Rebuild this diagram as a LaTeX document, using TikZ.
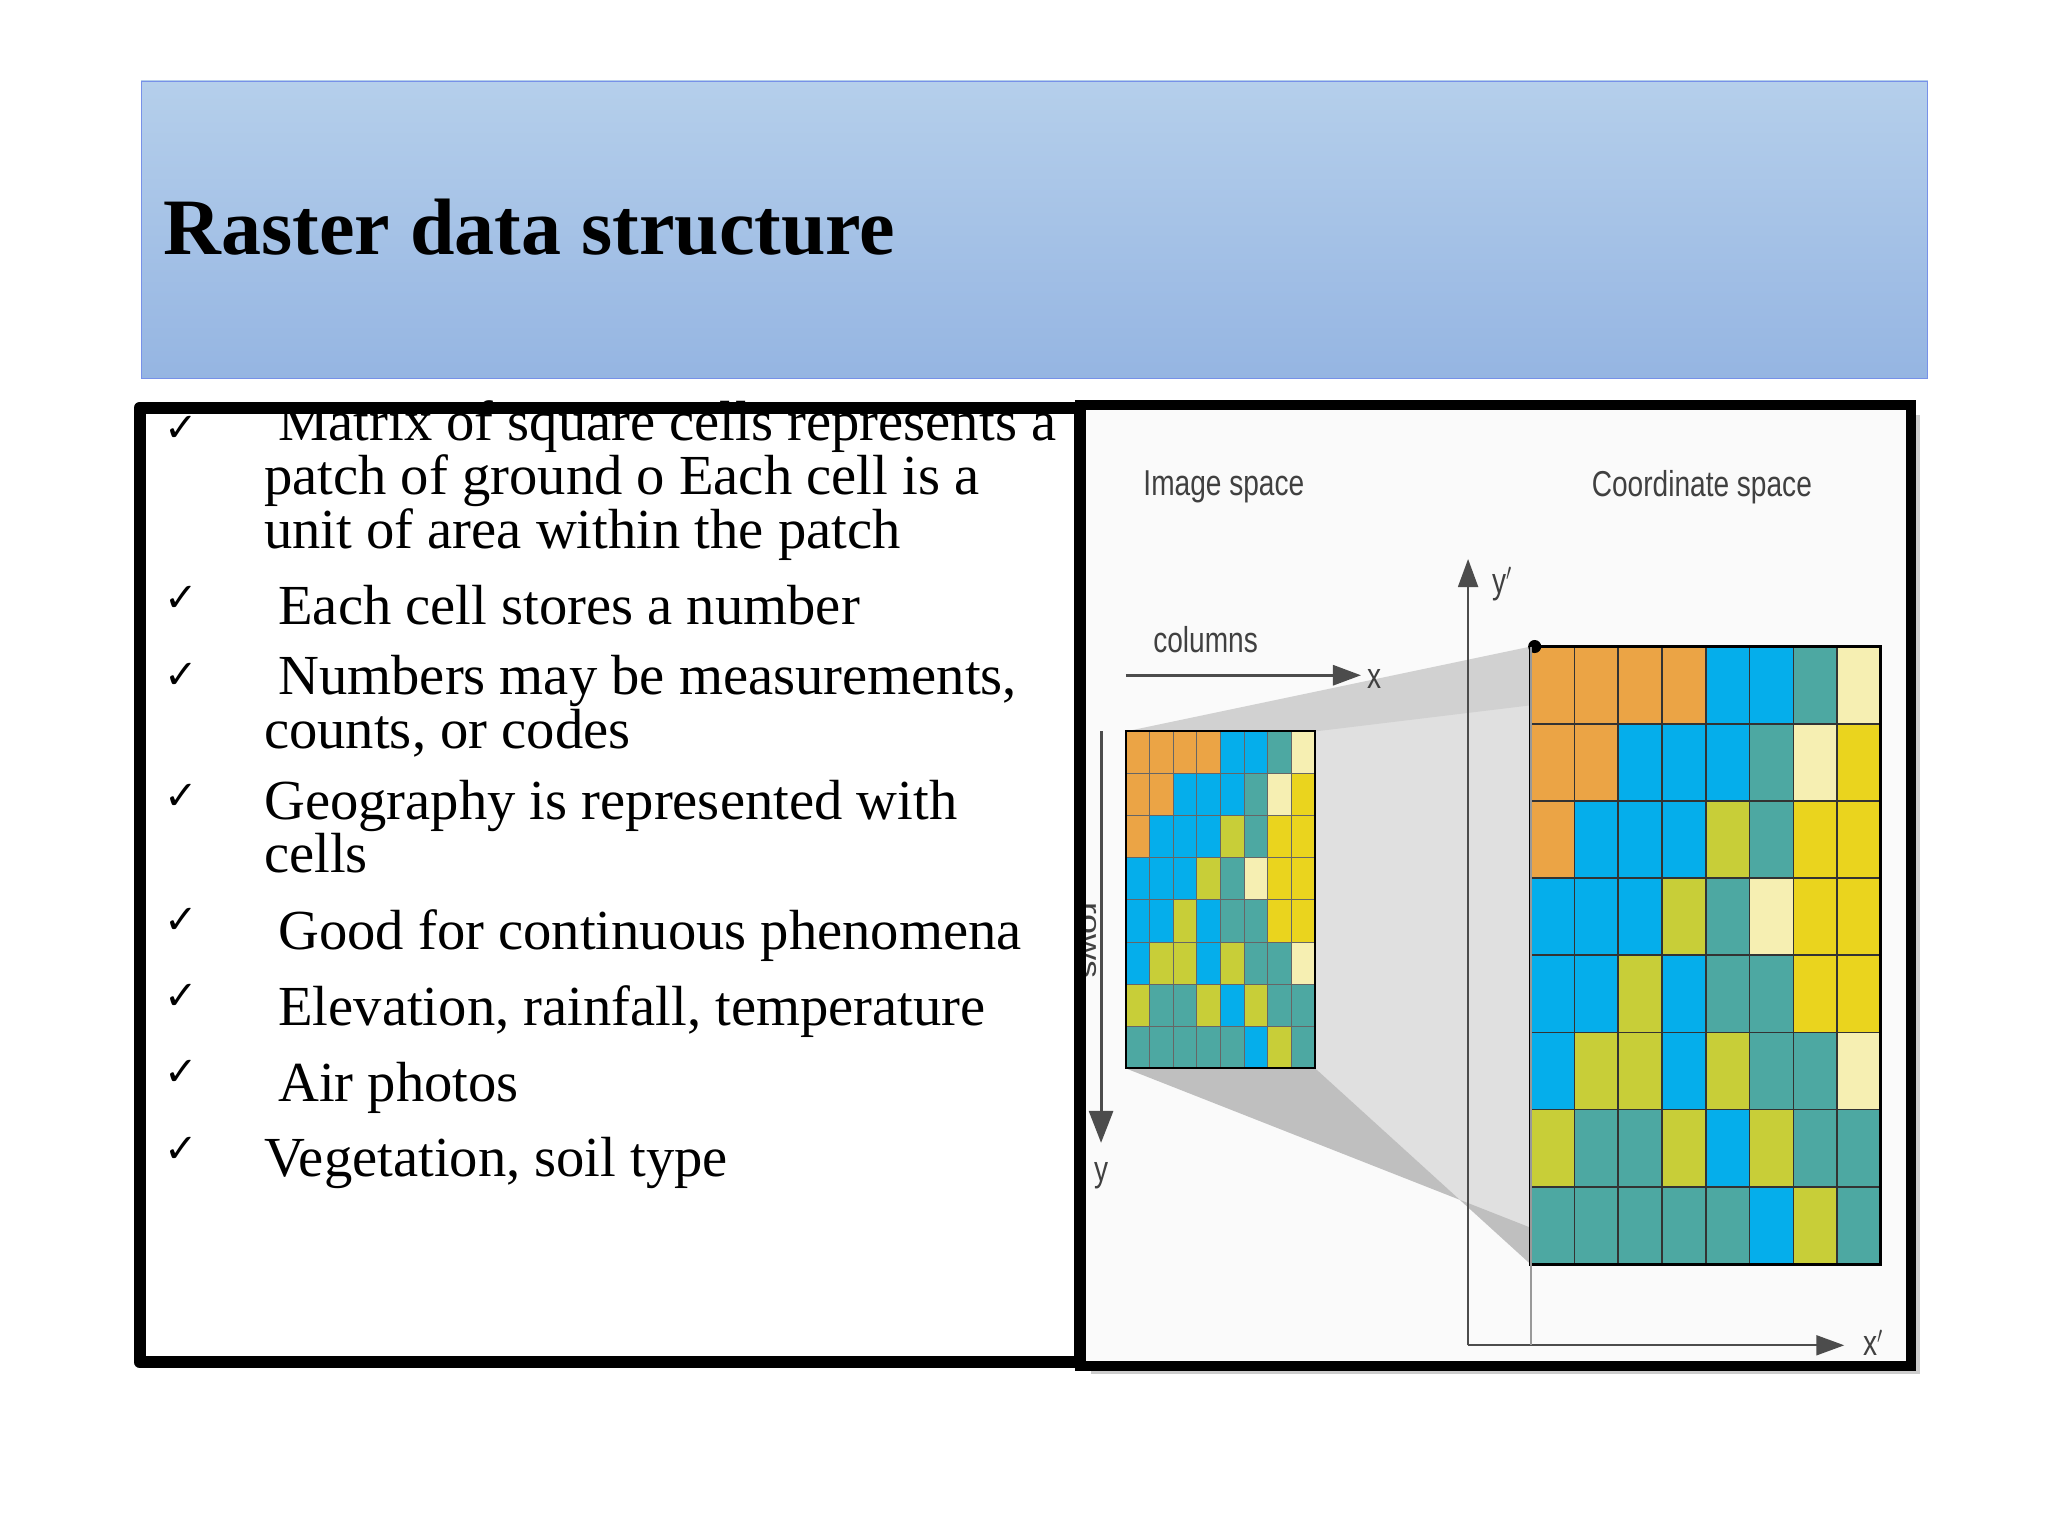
\documentclass[tikz,border=0pt]{standalone}
\usepackage{fontspec}
\setmainfont{Liberation Serif}
\setsansfont{Liberation Sans}
\newfontfamily\ckfont{DejaVu Sans}
\usetikzlibrary{arrows.meta}
\definecolor{cO}{HTML}{EBA445}\definecolor{cB}{HTML}{05AEEB}\definecolor{cT}{HTML}{4DA8A2}
\definecolor{cL}{HTML}{F6EFB2}\definecolor{cY}{HTML}{EAD41E}\definecolor{cG}{HTML}{C8CE38}
\definecolor{tTop}{HTML}{B5CFEB}\definecolor{tBot}{HTML}{95B5E2}
\tikzset{bul/.style={anchor=base west,font=\fontsize{28.3}{23.5}\selectfont,inner sep=0pt,align=left},
 ck/.style={anchor=base west,font=\ckfont\fontsize{20}{20}\selectfont,inner sep=0pt},
 lab/.style={font=\sffamily\fontsize{18}{18}\selectfont,text=black!75,xscale=0.78},
 ax/.style={draw=black!70,line width=1pt}}
\begin{document}
\begin{tikzpicture}[x=0.6531pt,y=-0.6531pt]
\useasboundingbox (0,0) rectangle (1568,1176);
\fill[white] (0,0) rectangle (1568,1176);
\shade[top color=tTop,bottom color=tBot,draw=tBot!80!blue] (108,62) rectangle (1476,290);
\node[anchor=base west,font=\bfseries\fontsize{40}{40}\selectfont,inner sep=0pt] (title) at (125,195) {Raster data structure};
% right panel
\fill[black!20] (835,318) rectangle (1470,1052);
\fill[black!2] (827,310) rectangle (1463,1046);
% projection
\fill[black!12] (1007,560) -- (1172,495) -- (1172,968) -- (1007,818) -- cycle;
\fill[black!18] (862,560) -- (1172,495) -- (1172,540) -- (1007,560) -- cycle;
\fill[black!25] (862,818) -- (1007,818) -- (1172,968) -- (1172,940) -- cycle;
\foreach \r/\rw in {1/{O,O,O,O,B,B,T,L},2/{O,O,B,B,B,T,L,Y},3/{O,B,B,B,G,T,Y,Y},4/{B,B,B,G,T,L,Y,Y},5/{B,B,G,B,T,T,Y,Y},6/{B,G,G,B,G,T,T,L},7/{G,T,T,G,B,G,T,T},8/{T,T,T,T,T,B,G,T}}{
 \foreach \c [count=\i] in \rw {
  \fill[fill=c\c,draw=black!80,line width=0.8pt] ({1172+(\i-1)*33.5},{495+(\r-1)*59.1}) rectangle +(33.5,59.1);
  \fill[fill=c\c,draw=black!60,line width=0.5pt] ({862+(\i-1)*18.1},{560+(\r-1)*32.25}) rectangle +(18.1,32.25);
 }}
\draw[line width=1.5pt] (1172,495) rectangle (1440,968);
\draw[line width=1pt] (862,560) rectangle (1007,818);
\fill (1175,495) circle (5);
% axes
\coordinate (o) at (1124,1030); \coordinate (yt) at (1124,428); \coordinate (xr) at (1412,1030);
\draw[ax,-{Triangle[length=14pt,width=10pt]}] (o) -- (yt);
\draw[ax,-{Triangle[length=14pt,width=10pt]}] (o) -- (xr);
\draw[black!40,line width=0.8pt] (1172,495) -- (1172,1030);
\node[lab] (yp) at (1150,447) {y$'$};
\node[lab] (xp) at (1434,1028) {x$'$};
\node[lab] (img) at (937,373) {Image space};
\node[lab] (crd) at (1303,373) {Coordinate space};
\node[lab] (col) at (923,490) {columns};
\coordinate (c0) at (862,517); \coordinate (c1) at (1042,517);
\draw[ax,line width=1.5pt,-{Triangle[length=14pt,width=10pt]}] (c0) -- (c1);
\node[lab] (xl) at (1052,520) {x};
\node[lab,rotate=-90] (rw) at (834,720) {rows};
\coordinate (r0) at (843,560); \coordinate (r1) at (843,875);
\draw[ax,line width=1.5pt,-{Triangle[length=16pt,width=12pt]}] (r0) -- (r1);
\node[lab] (yl) at (843,900) {y};
\draw[line width=5pt] (827,310) rectangle (1463,1046);
% left panel
\draw[line width=6pt,line join=round] (107,312) rectangle (827,1043);
\foreach \y in {338,468,527,620,715,773,831,890} \node[ck] at (126,\y) {✓};
\node[bul] (b1) at (202,420) {\ Matrix of square cells represents a\\patch of ground o Each cell is a\\unit of area within the patch};
\node[bul] (b2) at (202,478) {\ Each cell stores a number};
\node[bul] (b3) at (202,573) {\ Numbers may be measurements,\\counts, or codes};
\node[bul] (b4) at (202,668) {Geography is represented with\\cells};
\node[bul] (b5) at (202,727) {\ Good for continuous phenomena};
\node[bul] (b6) at (202,785) {\ Elevation, rainfall, temperature};
\node[bul] (b7) at (202,843) {\ Air photos};
\node[bul] (b8) at (202,901) {Vegetation, soil type};
\end{tikzpicture}
\end{document}
